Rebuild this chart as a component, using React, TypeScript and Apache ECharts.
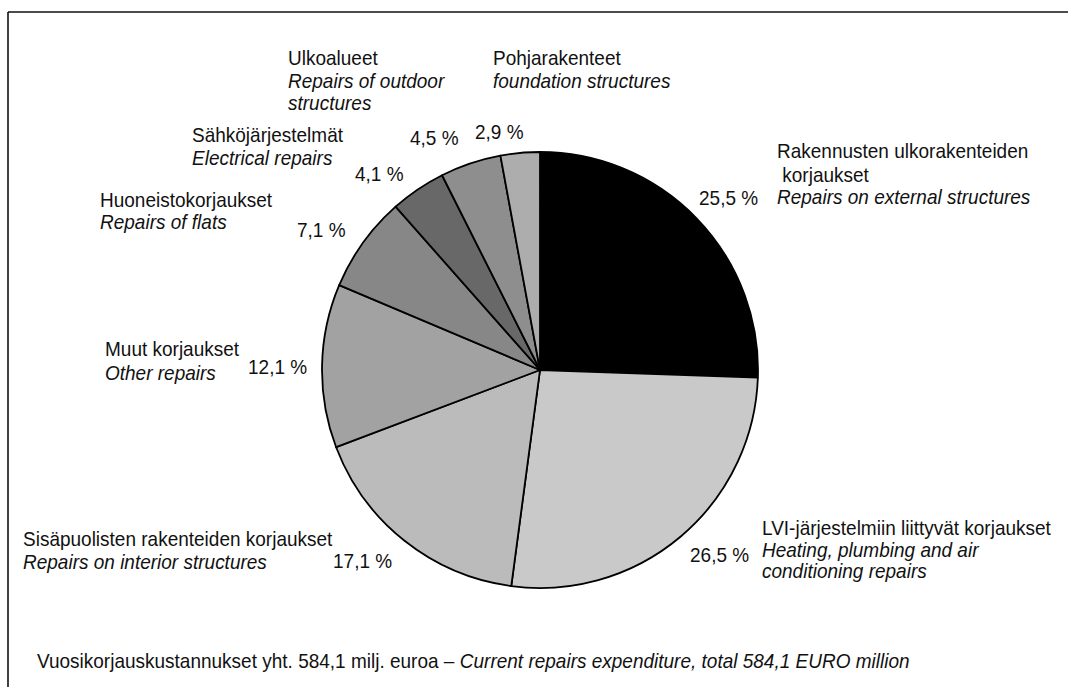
import React, { useEffect, useRef } from "react";
import * as echarts from "echarts";

// ---- Data ----
const categoriesFi = [
  "Rakennusten ulkorakenteiden korjaukset",
  "LVI-järjestelmiin liittyvät korjaukset",
  "Sisäpuolisten rakenteiden korjaukset",
  "Muut korjaukset",
  "Huoneistokorjaukset",
  "Sähköjärjestelmät",
  "Ulkoalueet",
  "Pohjarakenteet",
];
const categoriesEn = [
  "Repairs on external structures",
  "Heating, plumbing and air conditioning repairs",
  "Repairs on interior structures",
  "Other repairs",
  "Repairs of flats",
  "Electrical repairs",
  "Repairs of outdoor structures",
  "foundation structures",
];
const shares = [25.5, 26.5, 17.1, 12.1, 7.1, 4.1, 4.5, 2.9];
const totalLabelFi = "Vuosikorjauskustannukset yht. 584,1 milj. euroa – ";
const totalLabelEn = "Current repairs expenditure, total 584,1 EURO million";

// ---- Styles / layout ----
const sliceColors = ["#000000", "#c9c9c9", "#bbbbbb", "#a2a2a2", "#878787", "#686868", "#8e8e8e", "#adadad"];
const FONT = "'Liberation Sans', Arial, Helvetica, sans-serif";
const FS = 20;
const SX = 0.95;

type Line = { t: string; it: boolean; x: number; y: number };
const labelBlocks: Line[][] = [
  [
    { t: "Rakennusten ulkorakenteiden", it: false, x: 777, y: 151 },
    { t: " korjaukset", it: false, x: 777, y: 175 },
    { t: "Repairs on external structures", it: true, x: 777, y: 197 },
  ],
  [
    { t: "LVI-järjestelmiin liittyvät korjaukset", it: false, x: 762, y: 528 },
    { t: "Heating, plumbing and air", it: true, x: 762, y: 550 },
    { t: "conditioning repairs", it: true, x: 762, y: 571 },
  ],
  [
    { t: "Sisäpuolisten rakenteiden korjaukset", it: false, x: 23, y: 539 },
    { t: "Repairs on interior structures", it: true, x: 23, y: 562 },
  ],
  [
    { t: "Muut korjaukset", it: false, x: 105, y: 349 },
    { t: "Other repairs", it: true, x: 105, y: 373 },
  ],
  [
    { t: "Huoneistokorjaukset", it: false, x: 100, y: 200 },
    { t: "Repairs of flats", it: true, x: 100, y: 222 },
  ],
  [
    { t: "Sähköjärjestelmät", it: false, x: 192, y: 135 },
    { t: "Electrical repairs", it: true, x: 192, y: 158 },
  ],
  [
    { t: "Ulkoalueet", it: false, x: 288, y: 58 },
    { t: "Repairs of outdoor", it: true, x: 288, y: 81 },
    { t: "structures", it: true, x: 288, y: 103 },
  ],
  [
    { t: "Pohjarakenteet", it: false, x: 493, y: 58 },
    { t: "foundation structures", it: true, x: 493, y: 81 },
  ],
];
const pctPos: [number, number][] = [
  [699, 198],
  [690, 555],
  [333, 561],
  [248, 367],
  [297, 230],
  [355, 174],
  [410, 138],
  [475, 132],
];

const fmtPct = (v: number) => v.toFixed(1).replace(".", ",") + " %";

export default function App() {
  const ref = useRef<HTMLDivElement>(null);
  useEffect(() => {
    if (!ref.current) return;
    const chart = echarts.init(ref.current, null, { renderer: "svg" });

    const graphics: any[] = [];
    graphics.push({
      type: "line",
      shape: { x1: 8, y1: 12, x2: 1068, y2: 12 },
      style: { stroke: "#111", lineWidth: 1.6 },
    });
    graphics.push({
      type: "line",
      shape: { x1: 8, y1: 12, x2: 8, y2: 687 },
      style: { stroke: "#111", lineWidth: 1.6 },
    });
    labelBlocks.forEach((block) =>
      block.forEach((ln) =>
        graphics.push({
          type: "text",
          x: ln.x,
          y: ln.y,
          scaleX: SX,
          style: {
            text: ln.t,
            font: `${ln.it ? "italic " : ""}${FS}px ${FONT}`,
            fill: "#111",
            textAlign: "left",
            textVerticalAlign: "middle",
          },
        })
      )
    );
    shares.forEach((v, i) =>
      graphics.push({
        type: "text",
        x: pctPos[i][0],
        y: pctPos[i][1],
        scaleX: SX,
        style: {
          text: fmtPct(v),
          font: `${FS}px ${FONT}`,
          fill: "#111",
          textAlign: "left",
          textVerticalAlign: "middle",
        },
      })
    );
    graphics.push({
      type: "text",
      x: 37,
      y: 661,
      scaleX: SX,
      style: {
        text: `{n|${totalLabelFi}}{i|${totalLabelEn}}`,
        rich: {
          n: { fontSize: FS, fontFamily: FONT, fill: "#111", color: "#111" },
          i: { fontSize: FS, fontFamily: FONT, fontStyle: "italic", fill: "#111", color: "#111" },
        },
        textAlign: "left",
        textVerticalAlign: "middle",
      },
    });

    chart.setOption({
      animation: false,
      backgroundColor: "#ffffff",
      series: [
        {
          type: "pie",
          center: [540, 370],
          radius: 218,
          startAngle: 90,
          clockwise: true,
          label: { show: false },
          labelLine: { show: false },
          emphasis: { disabled: true },
          itemStyle: { borderColor: "#000", borderWidth: 1.8 },
          data: shares.map((v, i) => ({
            name: categoriesFi[i],
            value: v,
            itemStyle: { color: sliceColors[i] },
          })),
        },
      ],
      graphic: graphics,
    });
    return () => chart.dispose();
  }, []);
  return (
    <div
      ref={ref}
      style={{ position: "fixed", left: 0, top: 0, width: 1068, height: 687, background: "#fff" }}
    />
  );
}
